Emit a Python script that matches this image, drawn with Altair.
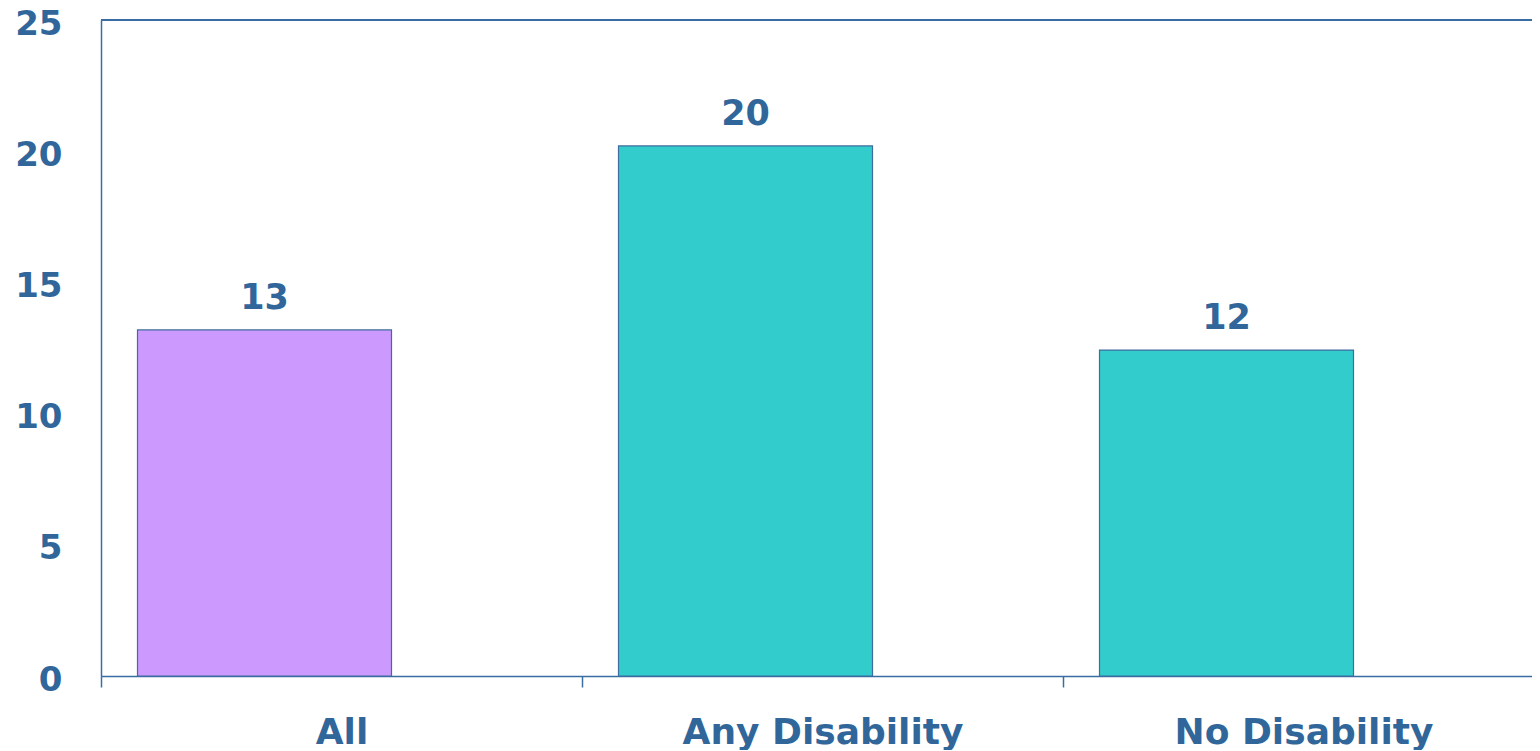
import altair as alt
import pandas as pd

categories = ["All", "Any Disability", "No Disability"]
values = [13.19, 20.2, 12.42]
series = ["All", "Disability", "Disability"]

df = pd.DataFrame({"category": categories, "value": values, "series": series})

TEXT = "#31669B"
AXIS = "#3A6CA4"
FONT = "DejaVu Sans"

x_enc = alt.X(
    "category:N",
    sort=categories,
    scale=alt.Scale(range=[0, 1443], paddingInner=0, paddingOuter=0),
    axis=alt.Axis(
        title=None,
        labelAngle=0,
        labelLimit=0,
        tickBand="extent",
        tickSize=11,
        tickColor=AXIS,
        tickWidth=1.5,
        domainColor=AXIS,
        domainWidth=1.5,
        labelFont=FONT,
        labelFontSize=36,
        labelFontWeight="bold",
        labelColor=TEXT,
        labelPadding=28,
    ),
)

y_enc = alt.Y(
    "value:Q",
    scale=alt.Scale(domain=[0, 25], nice=False),
    axis=alt.Axis(
        title=None,
        values=[0, 5, 10, 15, 20, 25],
        ticks=False,
        grid=False,
        domainColor=AXIS,
        domainWidth=1.5,
        labelFont=FONT,
        labelFontSize=34,
        labelFontWeight="bold",
        labelColor=TEXT,
        labelPadding=39,
        labelOffset=4,
    ),
)

bars = alt.Chart(df).mark_bar(
    size=254, xOffset=-77, stroke="#3F6B9E", strokeWidth=1.2
).encode(
    x=x_enc,
    y=y_enc,
    color=alt.Color(
        "series:N",
        scale=alt.Scale(domain=["All", "Disability"], range=["#CC99FF", "#33CCCC"]),
        legend=None,
    ),
)

labels = alt.Chart(df).mark_text(
    xOffset=-77, dy=-21, baseline="alphabetic", align="center",
    font=FONT, fontSize=35, fontWeight="bold", color=TEXT,
).encode(
    x=alt.X("category:N", sort=categories),
    y=alt.Y("value:Q"),
    text=alt.Text("value:Q", format=".0f"),
)

top_rule = alt.Chart(pd.DataFrame({"v": [25]})).mark_rule(
    color=AXIS, strokeWidth=1.8
).encode(
    y=alt.Y("v:Q"),
    x=alt.value(0),
    x2=alt.value(1443),
)

chart = alt.layer(bars, labels, top_rule).properties(
    width=1431,
    height=656,
    autosize=alt.AutoSizeParams(type="none"),
    padding={"left": 93, "top": 12, "right": 0, "bottom": 74},
).configure_view(stroke=None).configure(background="white")

chart.save("out.html", embed_options={"renderer": "svg", "actions": False})
